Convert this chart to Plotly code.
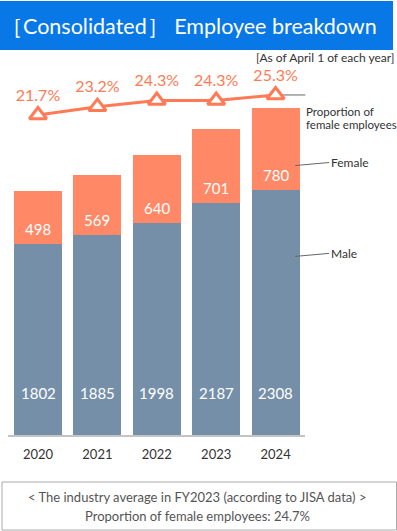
import plotly.graph_objects as go

years = ["2020", "2021", "2022", "2023", "2024"]
male = [1802, 1885, 1998, 2187, 2308]
female = [498, 569, 640, 701, 780]
female_pct = [21.7, 23.2, 24.3, 24.3, 25.3]
pct_labels = [f"{v}%" for v in female_pct]

title_text = "［Consolidated］ Employee breakdown"
subtitle_text = "[As of April 1 of each year]"
note_line1 = "&lt; The industry average in FY2023 (according to JISA data) &gt;"
note_line2 = "Proportion of female employees: 24.7%"
prop_line1 = "Proportion of"
prop_line2 = "female employees"

W, H = 397, 531
MALE_C = "#768FA8"
FEMALE_C = "#FF8866"
LINE_C = "#FF7A55"
BLUE = "#0878E6"
FONT = "Lato"

xpos = list(range(len(years)))


def py(px):
    return 1 - px / H


def pxx(px):
    return px / W


fig = go.Figure()
fig.add_bar(x=xpos, y=male, width=0.81, marker=dict(color=MALE_C, line=dict(width=0)), name="Male")
fig.add_bar(x=xpos, y=female, width=0.81, marker=dict(color=FEMALE_C, line=dict(width=0)), name="Female")
fig.add_scatter(
    x=xpos, y=female_pct, yaxis="y2", mode="lines+markers+text",
    text=pct_labels, textposition="top center",
    textfont=dict(color=LINE_C, size=16, family=FONT),
    line=dict(color=LINE_C, width=3),
    marker=dict(symbol="triangle-up", size=15, color="white", line=dict(color=LINE_C, width=3)),
    cliponaxis=False, name="Proportion",
)

annotations = []
for i in xpos:
    annotations.append(dict(x=i, y=male[i], xref="x", yref="y", yshift=15, text=str(female[i]),
                            showarrow=False, font=dict(color="white", size=15, family=FONT)))
    annotations.append(dict(x=i, y=0, xref="x", yref="y", yshift=42, text=str(male[i]),
                            showarrow=False, font=dict(color="white", size=15, family=FONT)))

last = xpos[-1]
# side labels
annotations.append(dict(x=last + 0.33, y=male[-1] + female[-1] * 0.3, xref="x", yref="y", ax=34, ay=-3,
                        axref="pixel", ayref="pixel", text="Female", xanchor="left",
                        showarrow=True, arrowhead=0, arrowwidth=1, arrowcolor="#666",
                        font=dict(color="#333", size=12, family=FONT)))
annotations.append(dict(x=last + 0.33, y=male[-1] * 0.73, xref="x", yref="y", ax=34, ay=-3,
                        axref="pixel", ayref="pixel", text="Male", xanchor="left",
                        showarrow=True, arrowhead=0, arrowwidth=1, arrowcolor="#666",
                        font=dict(color="#333", size=12, family=FONT)))
annotations.append(dict(x=pxx(304), y=py(111.5), xref="paper", yref="paper", text=prop_line1,
                        xanchor="left", yanchor="middle", showarrow=False,
                        font=dict(color="#333", size=11.5, family=FONT)))
annotations.append(dict(x=pxx(304), y=py(124), xref="paper", yref="paper", text=prop_line2,
                        xanchor="left", yanchor="middle", showarrow=False,
                        font=dict(color="#333", size=11.5, family=FONT)))

# title, subtitle, note
annotations.append(dict(x=pxx(-1), y=py(26), xref="paper", yref="paper", text=title_text,
                        xanchor="left", yanchor="middle", showarrow=False,
                        font=dict(color="white", size=21.5, family=FONT)))
annotations.append(dict(x=pxx(396), y=py(57), xref="paper", yref="paper", text=subtitle_text,
                        xanchor="right", yanchor="middle", showarrow=False,
                        font=dict(color="#333", size=12, family=FONT)))
annotations.append(dict(x=pxx(197), y=py(497), xref="paper", yref="paper", text=note_line1,
                        xanchor="center", yanchor="middle", showarrow=False,
                        font=dict(color="#555", size=13, family=FONT)))
annotations.append(dict(x=pxx(197), y=py(516), xref="paper", yref="paper", text=note_line2,
                        xanchor="center", yanchor="middle", showarrow=False,
                        font=dict(color="#555", size=13, family=FONT)))

shapes = [
    dict(type="rect", xref="paper", yref="paper", x0=0, x1=pxx(393), y0=py(50), y1=py(1),
         fillcolor=BLUE, line=dict(width=0), layer="below"),
    dict(type="rect", xref="paper", yref="paper", x0=pxx(2), x1=pxx(396.5), y0=py(530), y1=py(482),
         fillcolor="rgba(0,0,0,0)", line=dict(color="#aaa", width=1)),
    dict(type="line", xref="x", yref="y2", x0=last, x1=last + 0.66, y0=female_pct[-1], y1=female_pct[-1],
         line=dict(color="#666", width=1), layer="below"),
    dict(type="line", xref="x", yref="y2", x0=last + 0.66, x1=last + 0.95, y0=female_pct[-1], y1=23.7,
         line=dict(color="#666", width=1), layer="below"),
]

fig.update_layout(
    width=W, height=H, margin=dict(l=0, r=0, t=0, b=0),
    paper_bgcolor="white", plot_bgcolor="rgba(0,0,0,0)",
    barmode="stack", showlegend=False,
    font=dict(family=FONT),
    xaxis=dict(type="linear", range=[-0.5, len(years) - 0.5], tickmode="array", tickvals=xpos,
               ticktext=years, domain=[pxx(8.3), pxx(305.3)], showline=True, linecolor="#c4c4c4",
               linewidth=2, showgrid=False, zeroline=False, ticks="", ticklabelstandoff=6,
               tickfont=dict(color="#333", size=13, family=FONT), fixedrange=True),
    yaxis=dict(domain=[py(435), py(100)], range=[0, 3160], visible=False, fixedrange=True),
    yaxis2=dict(domain=[py(130), py(62)], range=[19.0, 31.23], visible=False, anchor="x",
                fixedrange=True),
    annotations=annotations, shapes=shapes,
)

fig.write_html("out.html", config={"displayModeBar": False},
               post_script="document.body.style.margin='0';document.body.style.overflow='hidden';")
